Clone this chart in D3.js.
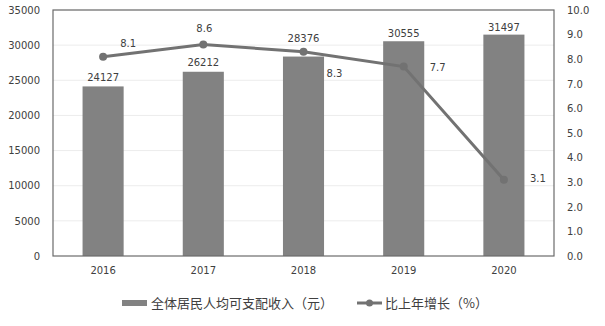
<!DOCTYPE html>
<html><head><meta charset="utf-8">
<script src="https://cdn.jsdelivr.net/npm/d3@7"></script>
<style>
body{margin:0;background:#fff;}
text{font-family:"DejaVu Sans",Verdana,sans-serif;fill:#404040;}
.cjk{font-family:"Noto Sans CJK SC",sans-serif;}
</style></head>
<body>
<svg id="c" width="605" height="326"></svg>
<script>
const years = ["2016","2017","2018","2019","2020"];
const income = [24127, 26212, 28376, 30555, 31497];
const growth = [8.1, 8.6, 8.3, 7.7, 3.1];
const leftTicks = [0,5000,10000,15000,20000,25000,30000,35000];
const rightTicks = [0,1,2,3,4,5,6,7,8,9,10];
const legendLabels = ["全体居民人均可支配收入（元）","比上年增长（%）"];

const svg = d3.select("#c");
const m = {l:53, t:10, r:554, b:256};
const x = d3.scaleBand().domain(years).range([m.l, m.r]).paddingInner(0.59).paddingOuter(0.295);
const yL = d3.scaleLinear().domain([0,35000]).range([m.b, m.t]);
const yR = d3.scaleLinear().domain([0,10]).range([m.b, m.t]);
const cx = d => x(d) + x.bandwidth()/2;
const barGray = "#828282";
const lineGray = "#727272";

// horizontal gridlines
svg.append("g").selectAll("line").data(leftTicks.slice(1)).join("line")
  .attr("x1", m.l).attr("x2", m.r)
  .attr("y1", d => yL(d)).attr("y2", d => yL(d))
  .attr("stroke", "#ececec").attr("stroke-width", 1);

// bars
svg.append("g").selectAll("rect").data(years).join("rect")
  .attr("x", d => x(d)).attr("width", x.bandwidth())
  .attr("y", (d,i) => yL(income[i])).attr("height", (d,i) => m.b - yL(income[i]))
  .attr("fill", barGray);

// plot frame
svg.append("rect").attr("x", m.l).attr("y", m.t).attr("width", m.r - m.l).attr("height", m.b - m.t)
  .attr("fill", "none").attr("stroke", "#6b6b6b").attr("stroke-width", 1.2);

// axes
const axL = svg.append("g").attr("transform", `translate(${m.l},0)`)
  .call(d3.axisLeft(yL).tickValues(leftTicks).tickSize(0).tickPadding(13).tickFormat(d3.format("d")));
const axR = svg.append("g").attr("transform", `translate(${m.r},0)`)
  .call(d3.axisRight(yR).tickValues(rightTicks).tickSize(0).tickPadding(13).tickFormat(d3.format(".1f")));
const axB = svg.append("g").attr("transform", `translate(0,${m.b})`)
  .call(d3.axisBottom(x).tickSize(0).tickPadding(11));
[axL, axR, axB].forEach(a => {
  a.select(".domain").remove();
  a.selectAll("text").attr("font-size", 10).attr("fill", "#404040")
    .attr("font-family", '"DejaVu Sans",Verdana,sans-serif');
});

// bar value labels (2018 lifted clear of the line)
const barLift = [5, 6, 15, 4, 4];
svg.append("g").selectAll("text").data(years).join("text")
  .attr("x", d => cx(d)).attr("y", (d,i) => yL(income[i]) - barLift[i])
  .attr("text-anchor", "middle").attr("font-size", 10)
  .text((d,i) => income[i]);

// growth line
const line = d3.line().x(d => cx(d)).y((d,i) => yR(growth[i]));
svg.append("path").datum(years).attr("d", line)
  .attr("fill", "none").attr("stroke", lineGray).attr("stroke-width", 3);
svg.append("g").selectAll("circle").data(years).join("circle")
  .attr("cx", d => cx(d)).attr("cy", (d,i) => yR(growth[i])).attr("r", 4)
  .attr("fill", lineGray);

// growth labels
const offs = [[25,-10],[1,-12],[31,25],[34,4],[34,2]];
svg.append("g").selectAll("text").data(years).join("text")
  .attr("x", (d,i) => cx(d) + offs[i][0]).attr("y", (d,i) => yR(growth[i]) + offs[i][1])
  .attr("text-anchor", "middle").attr("font-size", 10)
  .text((d,i) => growth[i].toFixed(1));

// legend
const lg = svg.append("g");
lg.append("rect").attr("x", 122).attr("y", 300).attr("width", 25).attr("height", 6).attr("fill", barGray);
lg.append("text").attr("class","cjk").attr("x", 151).attr("y", 307.5).attr("font-size", 13).text(legendLabels[0]);
lg.append("line").attr("x1", 357).attr("x2", 382).attr("y1", 303).attr("y2", 303)
  .attr("stroke", lineGray).attr("stroke-width", 3);
lg.append("circle").attr("cx", 369.5).attr("cy", 303).attr("r", 3.5).attr("fill", lineGray);
lg.append("text").attr("class","cjk").attr("x", 385).attr("y", 307.5).attr("font-size", 13).text(legendLabels[1]);
</script>
</body></html>
